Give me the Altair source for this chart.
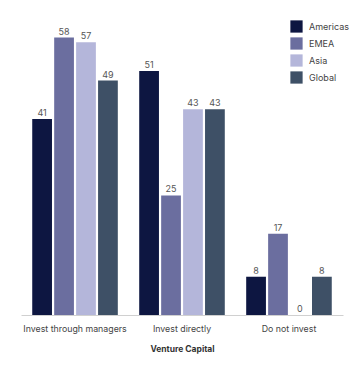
import altair as alt
import pandas as pd

categories = ["Invest through managers", "Invest directly", "Do not invest"]
regions = ["Americas", "EMEA", "Asia", "Global"]
americas = [41, 51, 8]
emea = [58, 25, 17]
asia = [57, 43, 0]
global_ = [49, 43, 8]
colors = ["#0d1641", "#6b6e9f", "#b4b6da", "#3e5066"]

rows = []
for reg, vals in zip(regions, [americas, emea, asia, global_]):
    for c, v in zip(categories, vals):
        rows.append({"category": c, "region": reg, "value": v})
df = pd.DataFrame(rows)

FONT = "Inter"

base = alt.Chart(df).encode(
    x=alt.X("category:N", sort=categories, title="Venture Capital",
            scale=alt.Scale(paddingInner=0.2, paddingOuter=0.105),
            axis=alt.Axis(labelAngle=0, labelFontSize=8.8, labelColor="#444444",
                          labelFont=FONT, titleFont=FONT, titleFontSize=8.5,
                          titleFontWeight="bold", titleColor="#333333",
                          domainColor="#d0d0d0", ticks=False, labelPadding=9,
                          titlePadding=12)),
    xOffset=alt.XOffset("region:N", sort=regions, scale=alt.Scale(paddingInner=0.1)),
    y=alt.Y("value:Q", scale=alt.Scale(domain=[0, 60]), axis=None),
)

bars = base.mark_bar().encode(
    color=alt.Color("region:N", sort=regions,
                    scale=alt.Scale(domain=regions, range=colors),
                    legend=alt.Legend(title=None, orient="none", legendX=269, legendY=-8,
                                      symbolType="square", symbolSize=150,
                                      symbolStrokeWidth=0, labelFont=FONT,
                                      labelFontSize=9, labelColor="#444444",
                                      rowPadding=4, labelOffset=6))
)

labels = base.mark_text(dy=-6, fontSize=9, font=FONT, color="#555555").encode(
    text="value:Q"
)

chart = (bars + labels).properties(
    width=322, height=287,
    padding={"left": 21, "top": 28, "right": 9, "bottom": 56},
    autosize=alt.AutoSizeParams(type="none"),
    background="white",
).configure_view(stroke=None, strokeWidth=0)

chart.save("out.html", embed_options={"renderer": "svg", "actions": False})
